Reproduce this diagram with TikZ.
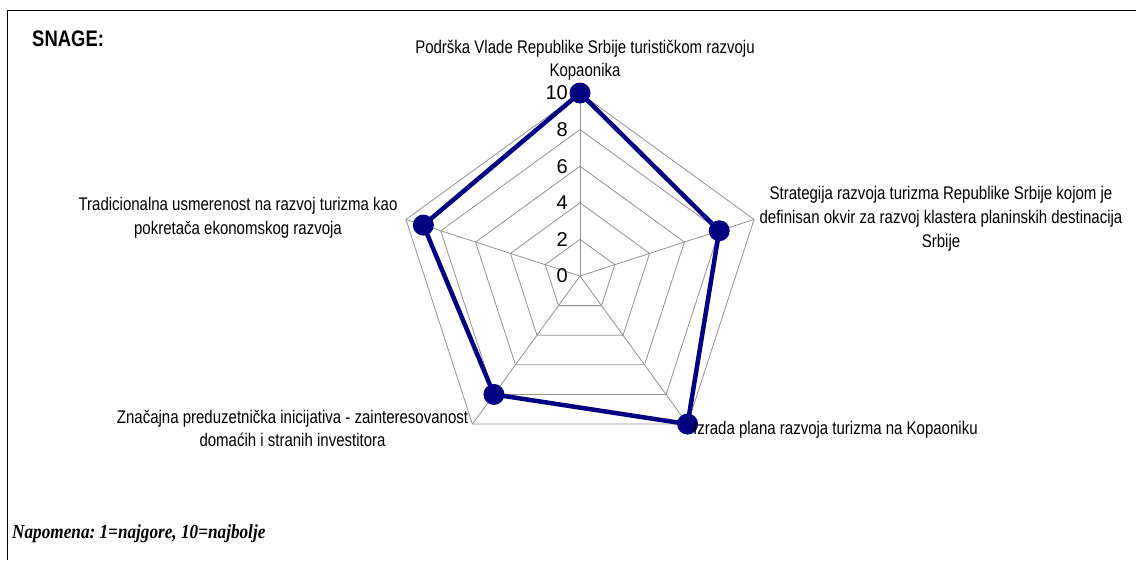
\documentclass[tikz,border=0pt]{standalone}
\usepackage{fontspec}
\setmainfont{Liberation Sans}
\newfontfamily\narrowf{Liberation Sans}[FakeStretch=0.82]
\newfontfamily\serifbi{Liberation Serif}[FakeStretch=0.86]
\definecolor{navyc}{RGB}{0,0,128}
\definecolor{gridc}{RGB}{145,145,145}
\frenchspacing
\begin{document}
\begin{tikzpicture}[x=1pt,y=-1pt,
  lbl/.style={font=\narrowf\fontsize{18.3}{23.8}\selectfont, align=center, inner sep=0pt},
  numlbl/.style={font=\fontsize{20}{22}\selectfont, inner sep=0pt, anchor=east},
  gridline/.style={draw=gridc, line width=0.8pt},
  dataline/.style={draw=navyc, line width=4.5pt, line join=round},
  marker/.style={circle, fill=navyc, inner sep=0pt, minimum size=21pt}]
\useasboundingbox (0,0) rectangle (1136,560);
\draw[line width=1.5pt] (7.5,560) -- (7.5,10.5) -- (1136,10.5);
\node[anchor=base west, inner sep=0pt, font=\narrowf\bfseries\fontsize{22.5}{26}\selectfont] (snage) at (32,46) {SNAGE:};
\begin{scope}[shift={(580,276)}, yscale=-1]
  \foreach \r in {36.6,73.2,109.8,146.4,183}
    \draw[gridline] (90:\r) -- (18:\r) -- (-54:\r) -- (-126:\r) -- (162:\r) -- cycle;
  \coordinate (c) at (0,0);
  \foreach \a in {90,18,-54,-126,162}
    \draw[gridline] (c) -- (\a:183);
  \foreach \v in {0,2,4,6,8,10}
    \node[numlbl] (n\v) at (-12,\v*18.3) {\v};
  \coordinate (d1) at (90:183);
  \coordinate (d2) at (18:146.4);
  \coordinate (d3) at (-54:183);
  \coordinate (d4) at (-126:146.4);
  \coordinate (d5) at (162:164.7);
  \draw[dataline] (d1) -- (d2) -- (d3) -- (d4) -- (d5) -- cycle;
  \foreach \i in {1,...,5}
    \node[marker] (m\i) at (d\i) {};
\end{scope}
\node[lbl, anchor=north] (ltop) at (585,39.5) {Podrška Vlade Republike Srbije turističkom razvoju\\Kopaonika};
\node[lbl, anchor=north] (lright) at (941,186.5) {Strategija razvoja turizma Republike Srbije kojom je\\definisan okvir za razvoj klastera planinskih destinacija\\Srbije};
\node[lbl, anchor=north] (lleft) at (238,197.5) {Tradicionalna usmerenost na razvoj turizma kao\\pokretača ekonomskog razvoja};
\node[lbl, anchor=north] (llowl) at (292.5,409.5) {Značajna preduzetnička inicijativa - zainteresovanost\\domaćih i stranih investitora};
\node[lbl, anchor=base west] (llowr) at (693,434) {Izrada plana razvoja turizma na Kopaoniku};
\node[anchor=base west, inner sep=0pt, font=\serifbi\bfseries\itshape\fontsize{20}{22}\selectfont] (note) at (12,538) {Napomena: 1=najgore, 10=najbolje};
\end{tikzpicture}
\end{document}
